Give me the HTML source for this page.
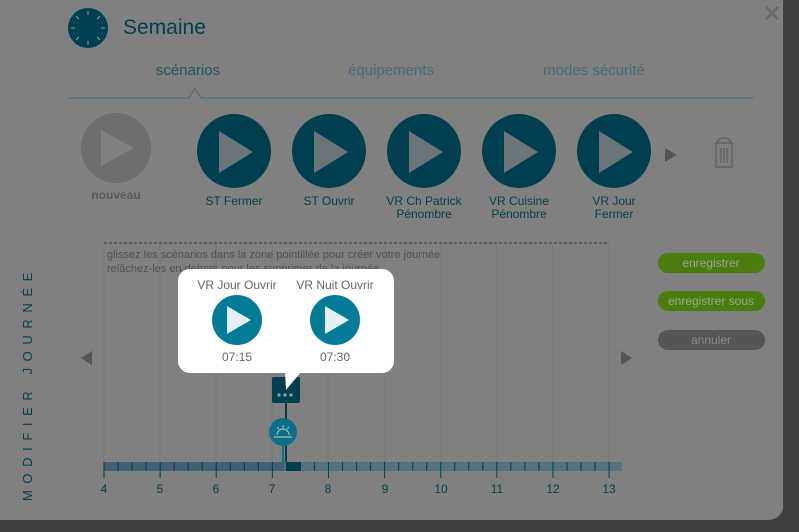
<!DOCTYPE html>
<html><head><meta charset="utf-8"><style>
body{margin:0;width:799px;height:527px;overflow:hidden;background:#404040;font-family:"Liberation Sans",sans-serif}
</style></head><body>
<svg width="799" height="527" viewBox="0 0 799 527" xmlns="http://www.w3.org/2000/svg" font-family="Liberation Sans, sans-serif">
<rect x="-20" y="-20" width="803" height="540" rx="14" fill="#808080"/>
<!-- header -->
<circle cx="88" cy="28" r="20" fill="#003f50"/>
<g stroke="#7fa4ae" stroke-width="1">
<line x1="88" y1="11" x2="88" y2="15"/><line x1="88" y1="41" x2="88" y2="45"/><line x1="71" y1="28" x2="75" y2="28"/><line x1="101" y1="28" x2="105" y2="28"/>
<line x1="76" y1="16" x2="79" y2="19"/><line x1="97" y1="37" x2="100" y2="40"/><line x1="100" y1="16" x2="97" y2="19"/><line x1="79" y1="37" x2="76" y2="40"/>
</g>
<text x="123" y="34" font-size="21" fill="#003f50">Semaine</text>
<text x="763" y="21" font-size="22" fill="#6a6a6a" font-weight="bold">✕</text>
<text x="188" y="75" font-size="15" fill="#1f5666" text-anchor="middle">scénarios</text>
<text x="391" y="75" font-size="15" fill="#456c77" text-anchor="middle">équipements</text>
<text x="594" y="75" font-size="15" fill="#456c77" text-anchor="middle">modes sécurité</text>
<polyline points="69,98 189,98 195,88 201,98 754,98" fill="none" stroke="#3f6f7e" stroke-width="1"/>
<!-- scenarios -->
<circle cx="116" cy="148" r="35" fill="#6e6e6e"/><polygon points="101,130 101,166 134,148" fill="#808080"/>
<text x="116" y="199" font-size="12" font-weight="bold" fill="#5a5a5a" text-anchor="middle">nouveau</text>
<g fill="#003f50" font-size="12" text-anchor="middle">
<circle cx="234" cy="151" r="37"/><circle cx="329" cy="151" r="37"/><circle cx="424" cy="151" r="37"/><circle cx="519" cy="151" r="37"/><circle cx="614" cy="151" r="37"/>
<text x="234" y="205">ST Fermer</text><text x="329" y="205">ST Ouvrir</text>
<text x="424" y="205">VR Ch Patrick</text><text x="424" y="218">Pénombre</text>
<text x="519" y="205">VR Cuisine</text><text x="519" y="218">Pénombre</text>
<text x="614" y="205">VR Jour</text><text x="614" y="218">Fermer</text>
</g>
<g fill="#6b7479">
<polygon points="219,131 219,173 253,152"/><polygon points="314,131 314,173 348,152"/><polygon points="409,131 409,173 443,152"/><polygon points="504,131 504,173 538,152"/><polygon points="599,131 599,173 633,152"/>
</g>
<polygon points="665,148 665,162 677,155" fill="#555"/>
<g fill="none" stroke="#5e5e5e" stroke-width="1.2"><path d="M716,167 V146 A8,8 0 0 1 732,146 V167 Z"/><line x1="721" y1="148" x2="721" y2="163"/><line x1="724" y1="148" x2="724" y2="163"/><line x1="727" y1="148" x2="727" y2="163"/><line x1="715" y1="143" x2="733" y2="143"/></g>
<!-- buttons -->
<rect x="658" y="253" width="107" height="20" rx="10" fill="#4a7c10"/><text x="711" y="267" font-size="12" fill="#9aa88a" text-anchor="middle">enregistrer</text>
<rect x="658" y="291" width="107" height="20" rx="10" fill="#4a7c10"/><text x="711" y="305" font-size="12" fill="#9aa88a" text-anchor="middle">enregistrer sous</text>
<rect x="658" y="330" width="107" height="20" rx="10" fill="#555558"/><text x="711" y="344" font-size="12" fill="#8a8a8a" text-anchor="middle">annuler</text>
<!-- vertical label -->
<text transform="translate(32,501) rotate(-90)" font-size="13" fill="#003f50" letter-spacing="6.6">MODIFIER JOURNÉE</text>
<!-- timeline area -->
<g stroke="#6e7a7e" stroke-width="1">
<line x1="104" y1="243" x2="104" y2="462"/><line x1="160" y1="243" x2="160" y2="462"/><line x1="216" y1="243" x2="216" y2="462"/><line x1="272" y1="243" x2="272" y2="462"/><line x1="328" y1="243" x2="328" y2="462"/><line x1="385" y1="243" x2="385" y2="462"/><line x1="441" y1="243" x2="441" y2="462"/><line x1="497" y1="243" x2="497" y2="462"/><line x1="553" y1="243" x2="553" y2="462"/><line x1="609" y1="243" x2="609" y2="462"/>
</g>
<line x1="104" y1="243" x2="609" y2="243" stroke="#1e4a58" stroke-dasharray="3,2"/>
<text x="107" y="258" font-size="11" fill="#505050">glissez les scénarios dans la zone pointillée pour créer votre journée</text>
<text x="107" y="272" font-size="11" fill="#505050">relâchez-les en dehors pour les supprimer de la journée</text>
<polygon points="92,351 92,365 81,358" fill="#555"/>
<polygon points="621,351 621,365 632,358" fill="#555"/>
<rect x="104" y="462" width="180" height="9" fill="#40616f"/>
<rect x="284" y="462" width="338" height="9" fill="#56737f"/>
<rect x="286" y="462" width="15" height="9" fill="#003f50"/>
<g stroke="#003f50" stroke-width="1" id="ticks"></g>
<g font-size="12" fill="#003f50" text-anchor="middle">
<text x="104" y="493">4</text><text x="160" y="493">5</text><text x="216" y="493">6</text><text x="272" y="493">7</text><text x="328" y="493">8</text><text x="385" y="493">9</text><text x="441" y="493">10</text><text x="497" y="493">11</text><text x="553" y="493">12</text><text x="609" y="493">13</text>
</g>
<!-- markers -->
<line x1="286" y1="400" x2="286" y2="462" stroke="#003f50" stroke-width="2"/>
<line x1="283" y1="440" x2="283" y2="462" stroke="#0d6e88" stroke-width="2"/>
<circle cx="283" cy="432" r="14" fill="#0d6e88"/>
<g stroke="#9fbfc8" stroke-width="1.2" fill="none"><line x1="274" y1="437" x2="292" y2="437"/><path d="M277,435 A6,6 0 0 1 289,435"/><line x1="283" y1="425" x2="283" y2="428"/><line x1="277" y1="427" x2="279" y2="429"/><line x1="289" y1="427" x2="287" y2="429"/></g>
<rect x="272" y="377" width="28" height="26" rx="2" fill="#003f50"/>
<g fill="#8aa"><circle cx="279" cy="395" r="1.6"/><circle cx="285" cy="395" r="1.6"/><circle cx="291" cy="395" r="1.6"/></g>
<!-- popup -->
<rect x="178" y="269" width="216" height="104" rx="12" fill="#fff"/>
<polygon points="285,372 301,372 286,390" fill="#fff"/>
<text x="237" y="289" font-size="12" fill="#666" text-anchor="middle">VR Jour Ouvrir</text>
<text x="335" y="289" font-size="12" fill="#666" text-anchor="middle">VR Nuit Ouvrir</text>
<circle cx="237" cy="320" r="25" fill="#037a96"/><polygon points="227,306 227,334 251,320" fill="#e4f0f4"/>
<circle cx="335" cy="320" r="25" fill="#037a96"/><polygon points="325,306 325,334 349,320" fill="#e4f0f4"/>
<text x="237" y="361" font-size="12" fill="#666" text-anchor="middle">07:15</text>
<text x="335" y="361" font-size="12" fill="#666" text-anchor="middle">07:30</text>
</svg>
<script>
var g=document.getElementById('ticks');
for(var i=0;i<=36;i++){var x=104+i*14.03;var l=document.createElementNS('http://www.w3.org/2000/svg','line');l.setAttribute('x1',x);l.setAttribute('x2',x);l.setAttribute('y1',462);l.setAttribute('y2',i%4==0?478:471);g.appendChild(l);}
</script>
</body></html>
